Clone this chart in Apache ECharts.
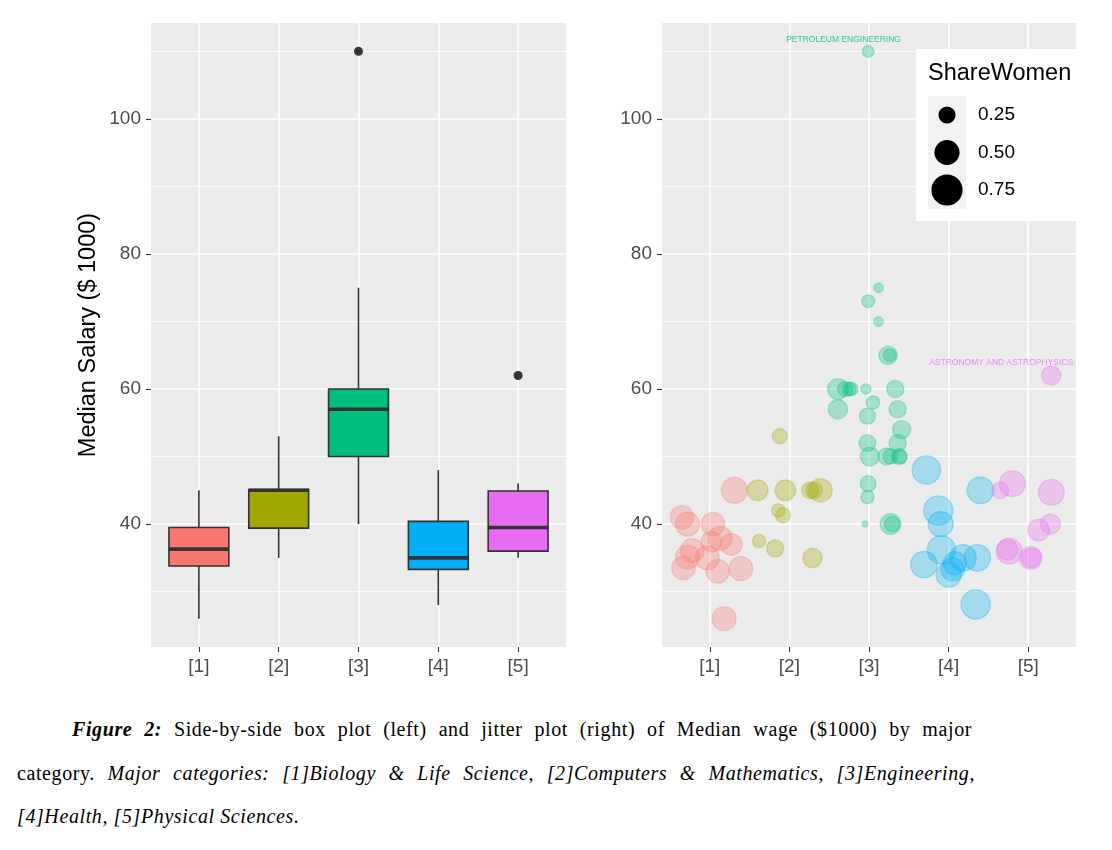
<!DOCTYPE html>
<html><head><meta charset="utf-8">
<script src="https://cdn.jsdelivr.net/npm/echarts@6/dist/echarts.min.js"></script>
<style>
body{margin:0;background:#fff;}
#chart{position:absolute;left:0;top:0;width:1112px;height:700px;}
.cap{position:absolute;font-family:'Liberation Serif','Times New Roman',serif;font-size:20px;line-height:24px;color:#000;letter-spacing:0.6px;}
</style></head><body>
<div id="chart"></div>
<div class="cap" style="left:72px;top:717px;width:900px;text-align:justify;text-align-last:justify;"><b><i>Figure 2:</i></b> Side-by-side box plot (left) and jitter plot (right) of Median wage ($1000) by major</div>
<div class="cap" style="left:17px;top:761px;width:958px;text-align:justify;text-align-last:justify;">category. <i>Major categories: [1]Biology &amp; Life Science, [2]Computers &amp; Mathematics, [3]Engineering,</i></div>
<div class="cap" style="left:17px;top:804px;white-space:nowrap;"><i>[4]Health, [5]Physical Sciences.</i></div>
<script>
// ---------- data ----------
const categories = [1, 2, 3, 4, 5];
const catLabels = ['[1]', '[2]', '[3]', '[4]', '[5]'];
const catColors = ['#F8766D', '#A3A500', '#00BF7D', '#00B0F6', '#E76BF3'];
const yMajor = [40, 60, 80, 100];
const yMinor = [30, 50, 70, 90, 110];
// box plot stats
const boxLow = [26, 35, 40, 28, 35];
const boxQ1 = [33.8, 39.4, 50, 33.3, 36];
const boxMedian = [36.3, 45, 57, 35, 39.5];
const boxQ3 = [39.5, 45.1, 60, 40.4, 44.9];
const boxHigh = [45, 53, 75, 48, 46];
const outlierCat = [3, 5];
const outlierVal = [110, 62];
// jitter points: [jittered x, median salary ($1000), ShareWomen]
const jitterBio = [[0.65,41.0,0.44],[0.72,40.0,0.46],[1.04,40.0,0.44],[1.31,45.0,0.53],[1.02,37.4,0.35],[1.13,37.9,0.46],[1.27,37.0,0.38],[0.78,36.1,0.44],[0.72,35.1,0.46],[0.97,35.0,0.46],[0.67,33.5,0.44],[1.10,33.0,0.44],[1.39,33.4,0.46],[1.18,26.0,0.46]];
const jitterComp = [[1.60,45.0,0.35],[1.95,45.0,0.35],[2.26,45.0,0.24],[2.31,45.0,0.24],[2.39,45.0,0.44],[1.88,53.0,0.20],[1.86,42.0,0.16],[1.92,41.3,0.20],[1.62,37.5,0.16],[1.82,36.4,0.25],[2.29,35.0,0.31]];
const jitterEng = [[2.99,110,0.13],[3.12,75,0.09],[2.99,73,0.15],[3.12,70,0.09],[3.24,65,0.28],[3.26,65,0.15],[2.61,60,0.35],[2.70,60,0.20],[2.78,60,0.16],[2.75,60,0.17],[2.96,60,0.10],[3.33,60,0.25],[2.61,57,0.31],[3.36,57,0.25],[3.05,58,0.16],[2.98,56,0.22],[3.41,54,0.28],[2.98,52,0.24],[3.36,52,0.25],[3.01,50,0.30],[3.22,50,0.25],[3.27,50,0.20],[3.38,50,0.22],[3.39,50,0.17],[2.99,46,0.22],[2.98,44,0.16],[2.95,40,0.04],[3.27,40,0.35],[3.29,40,0.20]];
const jitterHealth = [[3.72,48.0,0.63],[4.40,45.0,0.56],[3.87,42.0,0.67],[3.90,40.0,0.50],[3.91,36.2,0.63],[4.18,35.0,0.56],[4.36,35.0,0.56],[3.69,34.0,0.56],[4.05,33.3,0.44],[4.00,32.5,0.50],[4.34,28.1,0.67],[4.08,34.2,0.43]];
const jitterPhys = [[5.29,62.0,0.31],[4.80,46.0,0.53],[4.65,45.0,0.24],[5.29,44.7,0.53],[5.28,40.0,0.33],[5.13,39.1,0.38],[4.74,36.2,0.35],[4.76,36.0,0.53],[5.04,35.0,0.31],[5.03,35.0,0.42]];
const labelNames = ['PETROLEUM ENGINEERING', 'ASTRONOMY AND ASTROPHYSICS'];
const labelX = [2.68, 4.66];
const labelY = [111.7, 63.9];
const labelCat = [3, 5];
const legendShares = [0.25, 0.50, 0.75];

// ---------- chart ----------
const FONT = "'Liberation Sans', Arial, Helvetica, sans-serif";
const yMin = 21.8, yMax = 114.2;
const sizeFor = s => Math.max(4, -2 + 38.3 * Math.sqrt(s));
const jitterSets = [jitterBio, jitterComp, jitterEng, jitterHealth, jitterPhys];

function xAxisFor(gi) {
  return {
    gridIndex: gi, type: 'value', min: 0.4, max: 5.6,
    axisLine: {show: false},
    axisTick: {show: true, length: 5, customValues: categories, lineStyle: {color: '#333', width: 1.1}},
    axisLabel: {customValues: categories, formatter: v => catLabels[Math.round(v) - 1], color: '#4D4D4D', fontSize: 19, fontFamily: FONT, margin: 10},
    splitLine: {show: true, lineStyle: {color: '#fff', width: 1.6}}
  };
}
function yMajorFor(gi, withName) {
  const a = {
    gridIndex: gi, type: 'value', min: yMin, max: yMax,
    axisLine: {show: false},
    axisTick: {show: true, length: 5, customValues: yMajor, lineStyle: {color: '#333', width: 1.1}},
    axisLabel: {customValues: yMajor, color: '#4D4D4D', fontSize: 19, fontFamily: FONT, margin: 10},
    splitLine: {show: true, lineStyle: {color: '#fff', width: 1.6}}
  };
  if (withName) {
    Object.assign(a, {name: 'Median Salary ($ 1000)', nameLocation: 'middle', nameRotate: 90, nameGap: 50,
      nameTextStyle: {fontSize: 23.5, color: '#000', fontFamily: FONT}});
  }
  return a;
}
function yMinorFor(gi) {
  return {
    gridIndex: gi, type: 'value', min: yMin, max: yMax, position: 'left',
    axisLine: {show: false},
    axisTick: {show: false, customValues: yMinor},
    axisLabel: {show: false, customValues: yMinor},
    splitLine: {show: true, lineStyle: {color: '#fff', width: 0.8}}
  };
}

const series = [];
series.push({
  type: 'custom', xAxisIndex: 0, yAxisIndex: 0, z: 3,
  data: categories.map((c, i) => [c, boxLow[i], boxQ1[i], boxMedian[i], boxQ3[i], boxHigh[i]]),
  encode: {x: 0, y: [1, 2, 3, 4, 5]},
  renderItem: function (params, api) {
    const x = api.value(0);
    const low = api.coord([x, api.value(1)]);
    const q1 = api.coord([x, api.value(2)]);
    const med = api.coord([x, api.value(3)]);
    const q3 = api.coord([x, api.value(4)]);
    const high = api.coord([x, api.value(5)]);
    const hw = api.size([0.75, 0])[0] / 2;
    const ls = {stroke: '#333333', lineWidth: 1.6};
    return {type: 'group', children: [
      {type: 'line', shape: {x1: low[0], y1: low[1], x2: q1[0], y2: q1[1]}, style: ls},
      {type: 'line', shape: {x1: q3[0], y1: q3[1], x2: high[0], y2: high[1]}, style: ls},
      {type: 'rect', shape: {x: q3[0] - hw, y: q3[1], width: 2 * hw, height: q1[1] - q3[1]},
        style: {fill: catColors[params.dataIndex], stroke: '#333333', lineWidth: 1.6}},
      {type: 'line', shape: {x1: med[0] - hw, y1: med[1], x2: med[0] + hw, y2: med[1]},
        style: {stroke: '#333333', lineWidth: 3.6}}
    ]};
  }
});
series.push({
  type: 'scatter', xAxisIndex: 0, yAxisIndex: 0, z: 4,
  data: outlierCat.map((c, i) => [c, outlierVal[i]]),
  symbolSize: 9, itemStyle: {color: '#333333', opacity: 1}
});
jitterSets.forEach((set, i) => {
  series.push({
    type: 'scatter', xAxisIndex: 1, yAxisIndex: 2, z: 3,
    data: set,
    symbolSize: d => sizeFor(d[2]),
    itemStyle: {color: catColors[i], borderColor: catColors[i], borderWidth: 1.3, opacity: 0.3}
  });
});
series.push({
  type: 'scatter', xAxisIndex: 1, yAxisIndex: 2, z: 5,
  data: labelNames.map((n, i) => ({name: n, value: [labelX[i], labelY[i]],
    label: {color: catColors[labelCat[i] - 1]}})),
  symbolSize: 0,
  label: {show: true, position: 'inside', formatter: '{b}', fontSize: 8.5, fontFamily: FONT}
});

// legend (ShareWomen) drawn as graphic
const legendG = [
  {type: 'rect', shape: {x: 916, y: 49, width: 180, height: 172}, style: {fill: '#fff'}, z: 10},
  {type: 'text', x: 928, y: 74, style: {text: 'ShareWomen', fontSize: 23.5, fontFamily: FONT, fill: '#000', verticalAlign: 'middle'}, z: 11},
  {type: 'rect', shape: {x: 928, y: 96, width: 38, height: 113}, style: {fill: '#F2F2F2'}, z: 11}
];
legendShares.forEach((s, i) => {
  const cy = 115 + i * 37.5;
  legendG.push({type: 'circle', shape: {cx: 947, cy: cy, r: sizeFor(s) / 2}, style: {fill: '#000'}, z: 12});
  legendG.push({type: 'text', x: 978, y: cy, style: {text: s.toFixed(2), fontSize: 19, fontFamily: FONT, fill: '#000', verticalAlign: 'middle'}, z: 12});
});

const chart = echarts.init(document.getElementById('chart'), null, {renderer: 'canvas'});
chart.setOption({
  animation: false,
  backgroundColor: '#fff',
  grid: [
    {left: 151, top: 23, width: 415, height: 624, show: true, backgroundColor: '#EBEBEB', borderWidth: 0},
    {left: 662, top: 23, width: 414, height: 624, show: true, backgroundColor: '#EBEBEB', borderWidth: 0}
  ],
  xAxis: [xAxisFor(0), xAxisFor(1)],
  yAxis: [yMajorFor(0, true), yMinorFor(0), yMajorFor(1, false), yMinorFor(1)],
  series: series,
  graphic: legendG
});
</script>
</body></html>
